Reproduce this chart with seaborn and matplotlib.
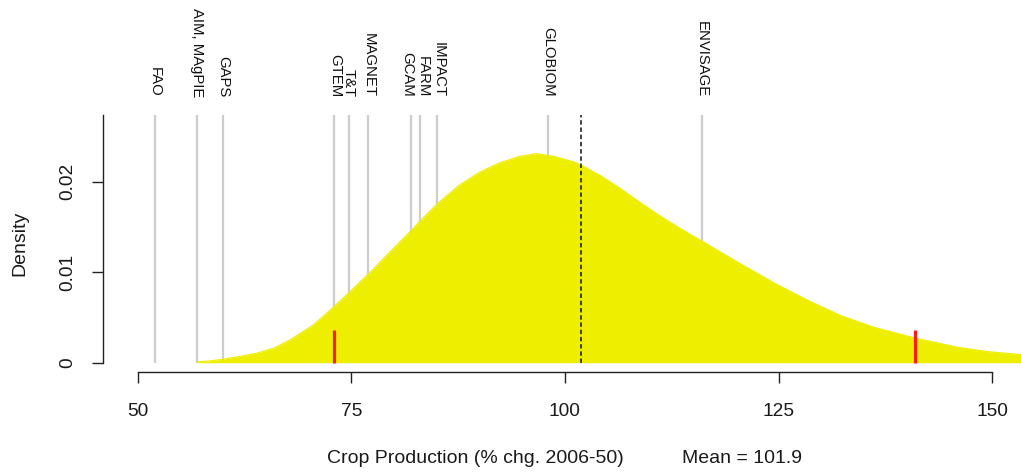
import matplotlib
matplotlib.use("Agg")
import matplotlib.pyplot as plt
import matplotlib.transforms as mtransforms
import pandas as pd
import seaborn as sns

# Density of projected crop production change (% chg. 2006-50)
curve_x = [57.0, 58.5, 60.1, 62.0, 63.9, 65.9, 67.8, 70.6, 73.1, 74.9, 77.1,
           79.6, 82.1, 83.1, 85.1, 87.6, 90.1, 92.4, 94.7, 96.7, 98.7, 101.0,
           102.0, 104.1, 106.4, 108.8, 111.0, 113.2, 116.1, 120.6, 124.5,
           128.4, 132.3, 136.2, 141.1, 146.0, 149.7, 153.4]
curve_density = [0.0001, 0.0002, 0.0004, 0.0007, 0.00104, 0.0016, 0.0025,
                 0.0042, 0.0063, 0.0079, 0.0099, 0.0123, 0.0147, 0.0157,
                 0.0176, 0.0196, 0.0211, 0.0221, 0.0228, 0.0231, 0.0228,
                 0.0222, 0.0218, 0.0207, 0.0193, 0.0177, 0.0163, 0.0150,
                 0.0134, 0.0109, 0.0088, 0.0069, 0.0052, 0.0039, 0.0027,
                 0.0017, 0.0012, 0.0009]

# Individual model results
models = ["FAO", "AIM, MAgPIE", "GAPS", "GTEM", "T&T", "MAGNET",
          "GCAM", "FARM", "IMPACT", "GLOBIOM", "ENVISAGE"]
model_values = [52.0, 57.0, 60.0, 73.0, 74.7, 77.0, 82.0, 83.0, 85.0, 98.0, 116.0]

# Interval bounds and mean
interval_bounds = [73.0, 141.0]
interval_mark_height = 0.0036
mean_value = 101.9

x_ticks = [50, 75, 100, 125, 150]
y_ticks = [0, 0.01, 0.02]
y_tick_labels = ["0", "0.01", "0.02"]

sns.set_style("ticks")
plt.rcParams["font.family"] = ["Liberation Sans", "DejaVu Sans"]
plt.rcParams["lines.scale_dashes"] = False

W, H = 1021, 472
fig = plt.figure(figsize=(W / 100, H / 100), dpi=100)
# plot region in pixels: left 103, right 1021, top 115, bottom 372.3
ax = fig.add_axes([103 / W, 1 - 372.3 / H, (W - 103) / W, (372.3 - 115) / H])
ax.set_facecolor("white")

x_left, x_right = 45.96, 153.36
y_bottom, y_top = -0.00106, 0.02737
ax.set_xlim(x_left, x_right)
ax.set_ylim(y_bottom, y_top)

df = pd.DataFrame({"x": curve_x, "density": curve_density})
yellow = "#EEEE00"

# model reference lines (behind the density)
ax.vlines(model_values, 0, y_top, colors="#cdcdcd", linewidth=1.6, zorder=1)

# density area
ax.fill_between(df["x"], 0, df["density"], color=yellow, linewidth=0, zorder=2)
sns.lineplot(data=df, x="x", y="density", color=yellow, linewidth=0.8,
             ax=ax, zorder=3)

# interval bounds
ax.vlines(interval_bounds, 0, interval_mark_height, colors="#ff1a1a",
          linewidth=2.3, zorder=4)

# mean line
ax.vlines([mean_value], 0, y_top, colors="#404040", linewidth=1.4,
          linestyles=[(0, (3.2, 2.0))], zorder=4)

# axes styling
for side in ("top", "right"):
    ax.spines[side].set_visible(False)
ax.spines["left"].set_bounds(0, y_top)
ax.spines["bottom"].set_bounds(x_ticks[0], x_ticks[-1])
for side in ("left", "bottom"):
    ax.spines[side].set_color("#222222")
    ax.spines[side].set_linewidth(1.0)

ax.set_xticks(x_ticks)
ax.set_xticklabels([str(t) for t in x_ticks])
ax.set_yticks(y_ticks)
ax.set_yticklabels(y_tick_labels)
ax.tick_params(axis="both", direction="out", length=8, width=1.0,
               color="#222222", labelcolor="#1a1a1a", labelsize=13.8)
ax.tick_params(axis="x", pad=14)
ax.tick_params(axis="y", pad=11)
for lbl in ax.get_yticklabels():
    lbl.set_rotation(90)
    lbl.set_va("center")
    lbl.set_ha("right")
ax.set_xlabel("")
ax.set_ylabel("")

# model names above the plot region, reading top to bottom
label_nudge_px = {"GCAM": -4, "FARM": 3, "IMPACT": 1.5, "GTEM": 1}
trans = mtransforms.blended_transform_factory(ax.transData, fig.transFigure)
for name, val in zip(models, model_values):
    off = mtransforms.offset_copy(trans, fig=fig,
                                  x=label_nudge_px.get(name, 0) * 72 / 100,
                                  units="points")
    ax.text(val, 1 - 97 / H, name, rotation=270, ha="center", va="bottom",
            fontsize=10.7, color="#111111", transform=off, clip_on=False)

# axis titles
fig.text(20 / W, 1 - 243 / H, "Density", rotation=90, ha="center",
         va="center", fontsize=14, color="#1a1a1a")
fig.text(326.7 / W, 1 - 463 / H, "Crop Production (% chg. 2006-50)",
         ha="left", va="baseline", fontsize=14, color="#1a1a1a")
fig.text(682 / W, 1 - 463 / H, f"Mean = {mean_value}",
         ha="left", va="baseline", fontsize=14, color="#1a1a1a")

fig.savefig("out.png", dpi=100, facecolor="white")
